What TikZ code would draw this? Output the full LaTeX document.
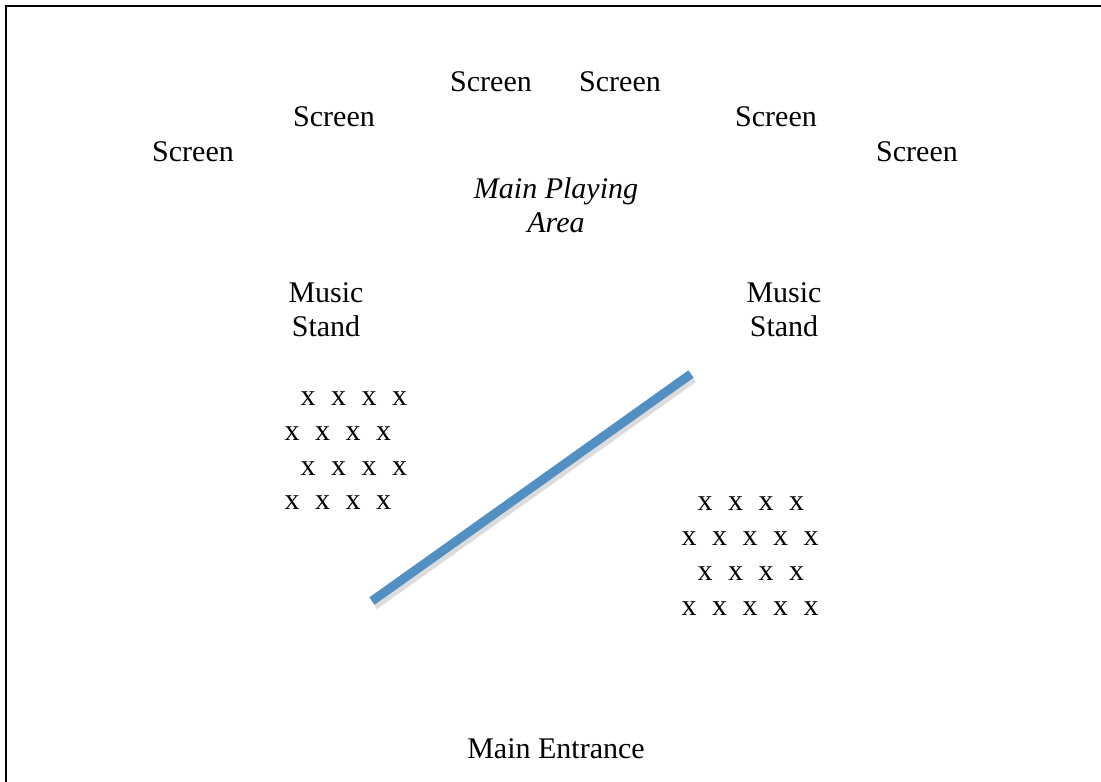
\documentclass[tikz,border=0pt]{standalone}
\usepackage{fontspec}
\setmainfont{Liberation Serif}
\definecolor{StageBlue}{HTML}{5290C4}
\definecolor{ShadowGray}{HTML}{9A9A9A}
\begin{document}
\begin{tikzpicture}[
  x=1pt, y=-1pt,
  roomtext/.style={font=\fontsize{30}{34}\selectfont, align=center, inner sep=0pt},
  seat/.style={font=\fontsize{30}{34}\selectfont, inner sep=0pt},
  barrier/.style={line width=9pt, draw=StageBlue},
  barriershadow/.style={line width=10pt, draw=ShadowGray, opacity=0.35}
]
\clip (0,0) rectangle (1101,782);
\useasboundingbox (0,0) rectangle (1101,782);
% room outline
\draw[line width=2pt] (6,6) rectangle (1130,810);
% screens
\node[roomtext] (screen1) at (491,82) {Screen};
\node[roomtext] (screen2) at (620,82) {Screen};
\node[roomtext] (screen3) at (334,117) {Screen};
\node[roomtext] (screen4) at (776,117) {Screen};
\node[roomtext] (screen5) at (193,152) {Screen};
\node[roomtext] (screen6) at (917,152) {Screen};
\node[roomtext, font=\fontsize{30}{34}\selectfont\itshape] (playarea) at (556,205) {Main Playing\\Area};
% music stands
\node[roomtext] (standleft) at (326,310) {Music\\Stand};
\node[roomtext] (standright) at (784,310) {Music\\Stand};
% seats
\foreach \row/\ypos in {0/399,1/434,2/469,3/503} {
  \pgfmathsetmacro{\xstart}{isodd(\row) ? 292 : 308}
  \foreach \col in {0,...,3}
    \node[seat] (seatL-\row-\col) at ({\xstart+30.5*\col},\ypos) {x};
}
\foreach \row/\ypos in {0/504,1/539,2/574,3/609} {
  \pgfmathsetmacro{\xstart}{isodd(\row) ? 689 : 705}
  \pgfmathtruncatemacro{\ncol}{isodd(\row) ? 4 : 3}
  \foreach \col in {0,...,\ncol}
    \node[seat] (seatR-\row-\col) at ({\xstart+30.5*\col},\ypos) {x};
}
% blue barrier
\coordinate (barrierlow) at (372,601);
\coordinate (barrierhigh) at (691,374);
\draw[barriershadow] ([shift={(2,4)}]barrierlow) -- ([shift={(2,4)}]barrierhigh);
\draw[barrier] (barrierlow) -- (barrierhigh);
\node[roomtext] (entrance) at (556,749) {Main Entrance};
\end{tikzpicture}
\end{document}
